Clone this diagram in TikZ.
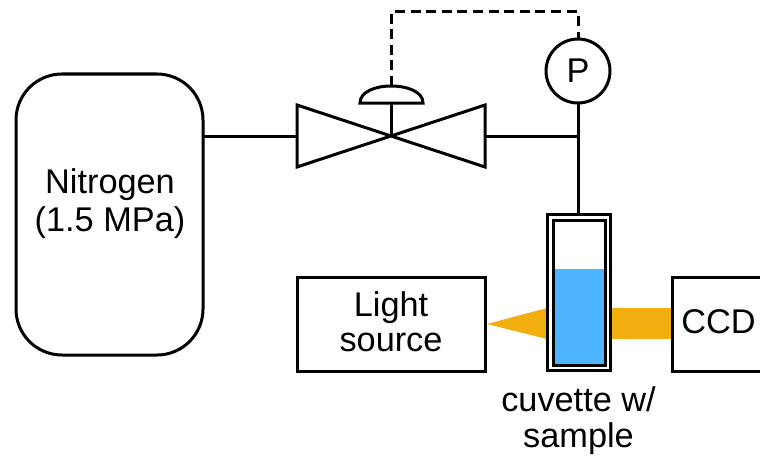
\documentclass[tikz,border=0pt]{standalone}
\usepackage{fontspec}
\setmainfont{Liberation Sans}
\usetikzlibrary{calc}
\definecolor{liquid}{HTML}{4DB4FF}
\definecolor{beam}{HTML}{F2AE0F}
\tikzset{
  pipe/.style={line width=3pt,line join=miter,black},
  box/.style={draw=black,line width=3pt,fill=white,inner sep=0pt,outer sep=0pt,align=center},
  lbl/.style={inner sep=0pt,align=center,font=\fontsize{34.3}{38}\selectfont},
}
\begin{document}
\begin{tikzpicture}[x=1pt,y=-1pt]
\useasboundingbox (0,0) rectangle (760,460);
\clip (0,0) rectangle (760,460);
% beams
\fill[beam] (610,308) rectangle (672,339);
\fill[beam] (487,324) -- (547,308) -- (547,339) -- cycle;
% tank
\node[box,rounded corners=46pt,minimum width=187pt,minimum height=281pt] (tank) at (109.5,214.5) {};
\node[lbl] (tanklabel) at (110,204) {Nitrogen\\(1.5 MPa)};
% valve
\coordinate (vc) at (391,136);
\coordinate (vl) at (297,136);
\coordinate (vr) at (485,136);
\draw[pipe] (297,105) -- (485,167) -- (485,105) -- (297,167) -- cycle;
\coordinate (domeL) at (360,103);
\coordinate (domeR) at (423,103);
\coordinate (domeT) at (391,86);
\draw[pipe] (domeL) .. controls (360,92) and (375,86) .. (domeT) .. controls (408,86) and (423,92) .. (domeR) -- cycle;
\draw[pipe] (domeL -| vc) -- (vc);
% gauge
\node[box,circle,minimum size=64pt] (P) at (578,71) {};
\node[lbl] (Plabel) at (578,71) {P};
\coordinate (tee) at (578,136);
% cuvette
\node[box,minimum width=63pt,minimum height=156pt] (cuvO) at (578.5,292.5) {};
\fill[liquid] (553,269) rectangle (605,365);
\node[draw=black,line width=3pt,inner sep=0pt,outer sep=0pt,minimum width=52pt,minimum height=145pt] (cuvI) at (579,292.5) {};
% pipes
\draw[pipe] (tank.east |- vl) -- (vl);
\draw[pipe] (vr) -- (tee);
\draw[pipe] (P.south) -- (cuvO.north -| P.south);
% dashed signal
\coordinate (c1) at (391,12);
\coordinate (c2) at (578,12);
\draw[line width=3pt,dash pattern=on 10pt off 5.6pt] (domeT) -- (c1) -- (c2) -- (P.north);
% boxes
\node[box,minimum width=188pt,minimum height=94pt] (light) at (391,324) {};
\node[lbl,font=\fontsize{34.3}{35}\selectfont] (lightlabel) at (391,322) {Light\\source};
\node[box,minimum width=110pt,minimum height=94pt] (ccd) at (727,324) {};
\node[lbl] (ccdlabel) at (718.5,322) {CCD};
\node[lbl,font=\fontsize{34.3}{36}\selectfont] (cap) at (578.5,421) {cuvette w/\\sample};
\end{tikzpicture}
\end{document}
